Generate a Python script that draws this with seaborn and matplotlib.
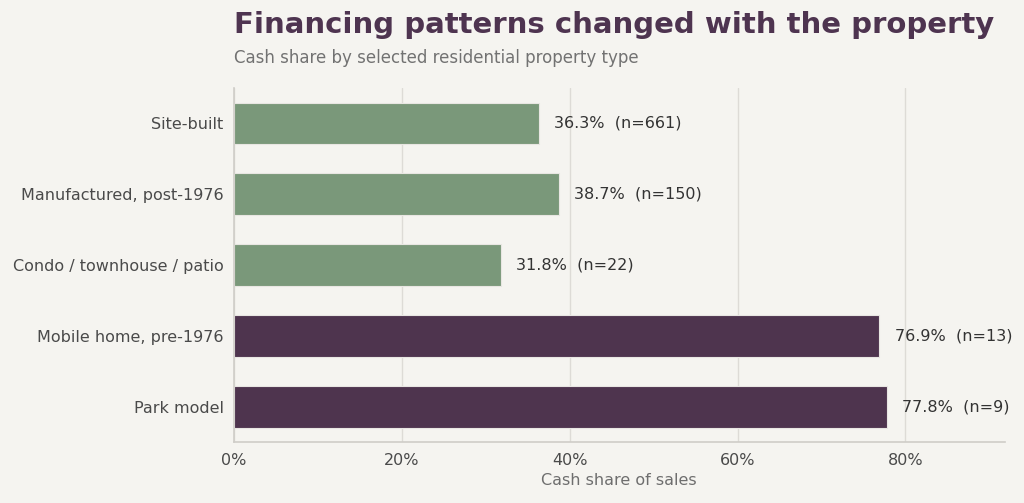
import pandas as pd
import matplotlib.pyplot as plt
import seaborn as sns
from matplotlib.ticker import PercentFormatter

categories = ["Site-built", "Manufactured, post-1976", "Condo / townhouse / patio",
              "Mobile home, pre-1976", "Park model"]
cash_share = [36.3, 38.7, 31.8, 76.9, 77.8]
sample_n = [661, 150, 22, 13, 9]
group = ["modern", "modern", "modern", "older", "older"]

BG = "#f5f4f0"
GREEN = "#7a987a"
PURPLE = "#4e344e"


def main():
    df = pd.DataFrame({"type": categories, "share": cash_share, "n": sample_n, "group": group})

    sns.set_style("white")
    plt.rcParams["font.family"] = ["DejaVu Sans"]

    fig = plt.figure(figsize=(10.24, 5.03), dpi=100, facecolor=BG)
    ax = fig.add_axes([0.2285, 0.121, 0.7525, 0.704], facecolor=BG)

    sns.barplot(data=df, y="type", x="share", hue="group",
                palette={"modern": GREEN, "older": PURPLE}, saturation=1,
                width=0.59, edgecolor="#e8e6e2", linewidth=0.8,
                dodge=False, legend=False, ax=ax)

    for i, row in df.iterrows():
        ax.annotate(f"{row['share']:.1f}%  (n={row['n']})", xy=(row["share"], i),
                    xytext=(11, 0), textcoords="offset points",
                    va="center", ha="left", fontsize=11.5, color="#333333")

    ax.set_xlim(0, max(cash_share) * 1.18)
    ax.set_ylim(4.5, -0.5)
    ax.xaxis.set_major_formatter(PercentFormatter(decimals=0))
    ax.set_xticks([0, 20, 40, 60, 80])
    ax.grid(axis="x", color="#dddbd6", linewidth=1)
    ax.set_axisbelow(True)

    for s in ["top", "right"]:
        ax.spines[s].set_visible(False)
    for s in ["left", "bottom"]:
        ax.spines[s].set_color("#cfcdc8")
        ax.spines[s].set_linewidth(1.2)

    ax.tick_params(axis="both", labelsize=11.5, colors="#666666", labelcolor="#4a4a4a",
                   length=4, width=1)
    ax.tick_params(axis="x", colors="#999999", labelcolor="#4a4a4a")
    ax.set_ylabel("")
    ax.set_xlabel("Cash share of sales", fontsize=11.5, color="#6e6e6e", labelpad=4)

    fig.text(0.2285, 0.934, "Financing patterns changed with the property",
             fontsize=21, fontweight="bold", color="#4e3450", ha="left", va="baseline")
    fig.text(0.2285, 0.874, "Cash share by selected residential property type",
             fontsize=12, color="#727272", ha="left", va="baseline")

    fig.savefig("out.png", dpi=100, facecolor=BG)


if __name__ == "__main__":
    main()
